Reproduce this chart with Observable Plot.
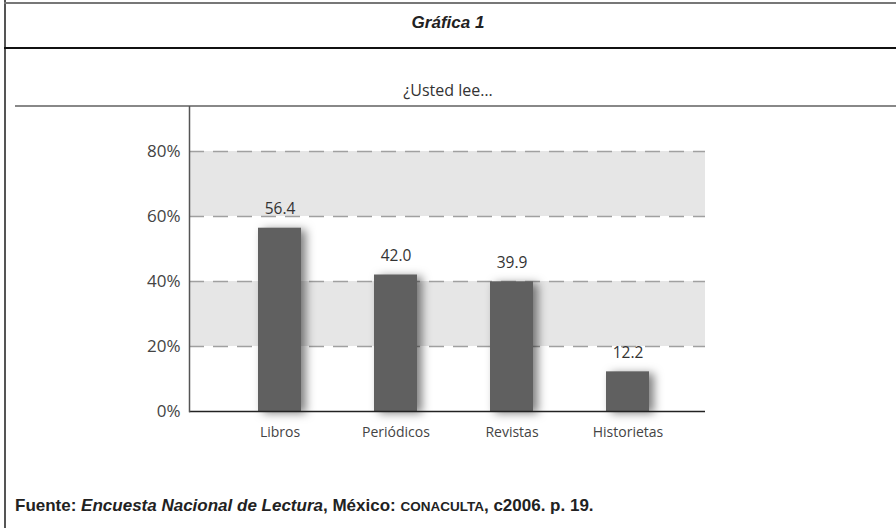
<!DOCTYPE html>
<html>
<head>
<meta charset="utf-8">
<script src="https://cdn.jsdelivr.net/npm/d3@7"></script>
<script src="https://cdn.jsdelivr.net/npm/@observablehq/plot@0.6"></script>
<style>
  html, body { margin: 0; padding: 0; background: #fff; }
  #page { position: relative; width: 896px; height: 528px; overflow: hidden; background: #fff; }
  .ln { position: absolute; }
  .title { position: absolute; left: 0; width: 896px; text-align: center; }
  #chart { position: absolute; left: 0; top: 106px; }
  #foot { position: absolute; left: 15px; top: 496px; line-height: 20px; font-family: "Liberation Sans", Arial, sans-serif; font-weight: bold; font-size: 17px; color: #222; white-space: nowrap; }
</style>
</head>
<body>
<div id="page">
  <div class="ln" style="left:4px; top:0px; width:2px; height:528px; background:#555;"></div>
  <div class="ln" style="left:4px; top:2px; width:892px; height:2px; background:#777;"></div>
  <div class="ln" style="left:4px; top:47px; width:892px; height:2px; background:#111;"></div>
  <div class="ln" style="left:15px; top:105px; width:881px; height:2px; background:#888;"></div>
  <div class="title" style="top:13px; font-family:'Liberation Sans', Arial, sans-serif; font-weight:bold; font-style:italic; font-size:17px; color:#222;">Gráfica 1</div>
  <div class="title" style="top:79px; font-family:'Open Sans', sans-serif; font-size:16px; color:#333;">¿Usted lee…</div>
  <div id="chart"></div>
  <div id="foot">Fuente: <i>Encuesta Nacional de Lectura</i>, México: <span style="font-size:13.5px;">CONACULTA</span>, c2006. p. 19.</div>
</div>
<script>
const categories = ["Libros", "Periódicos", "Revistas", "Historietas"];
const values = [56.4, 42.0, 39.9, 12.2];
const yTicks = [0, 20, 40, 60, 80];
const bands = [[20, 40], [60, 80]];
const gridLines = [20, 40, 60, 80];

const data = categories.map((c, i) => ({cat: c, val: values[i]}));
const bandData = bands.map(([a, b]) => ({y1: a, y2: b}));

const chart = Plot.plot({
  width: 896,
  height: 345,
  marginLeft: 189,
  marginRight: 191,
  marginTop: 0,
  marginBottom: 40,
  style: {fontFamily: "'Open Sans', sans-serif", color: "#444", background: "transparent"},
  x: {domain: categories, range: [220.25, 686.25], paddingInner: 0.63, paddingOuter: 0.315, label: null},
  y: {domain: [0, 93.85], label: null},
  marks: [
    Plot.rect(bandData, {y1: "y1", y2: "y2", fill: "#e6e6e6"}),
    Plot.ruleY(gridLines, {stroke: "#a0a0a0", strokeWidth: 1.5, strokeDasharray: "15,9"}),
    Plot.barY(data, {x: "cat", y: "val", fill: "#606060", imageFilter: "drop-shadow(5px 2px 5px rgba(0,0,0,0.5))"}),
    Plot.text(data, {x: "cat", y: "val", text: d => d.val.toFixed(1), dy: -19, fontSize: 15.5, fill: "#333"}),
    Plot.ruleY([0], {stroke: "#222", strokeWidth: 1.5}),
    Plot.frame({anchor: "left", stroke: "#555", strokeWidth: 1.5}),
    Plot.axisY({ticks: yTicks, tickFormat: d => d + "%", tickSize: 0, tickPadding: 9, fontSize: 17, fill: "#444"}),
    Plot.axisX({tickSize: 0, tickPadding: 16, fontSize: 14, fill: "#444"})
  ]
});
document.getElementById("chart").appendChild(chart);
</script>
</body>
</html>
